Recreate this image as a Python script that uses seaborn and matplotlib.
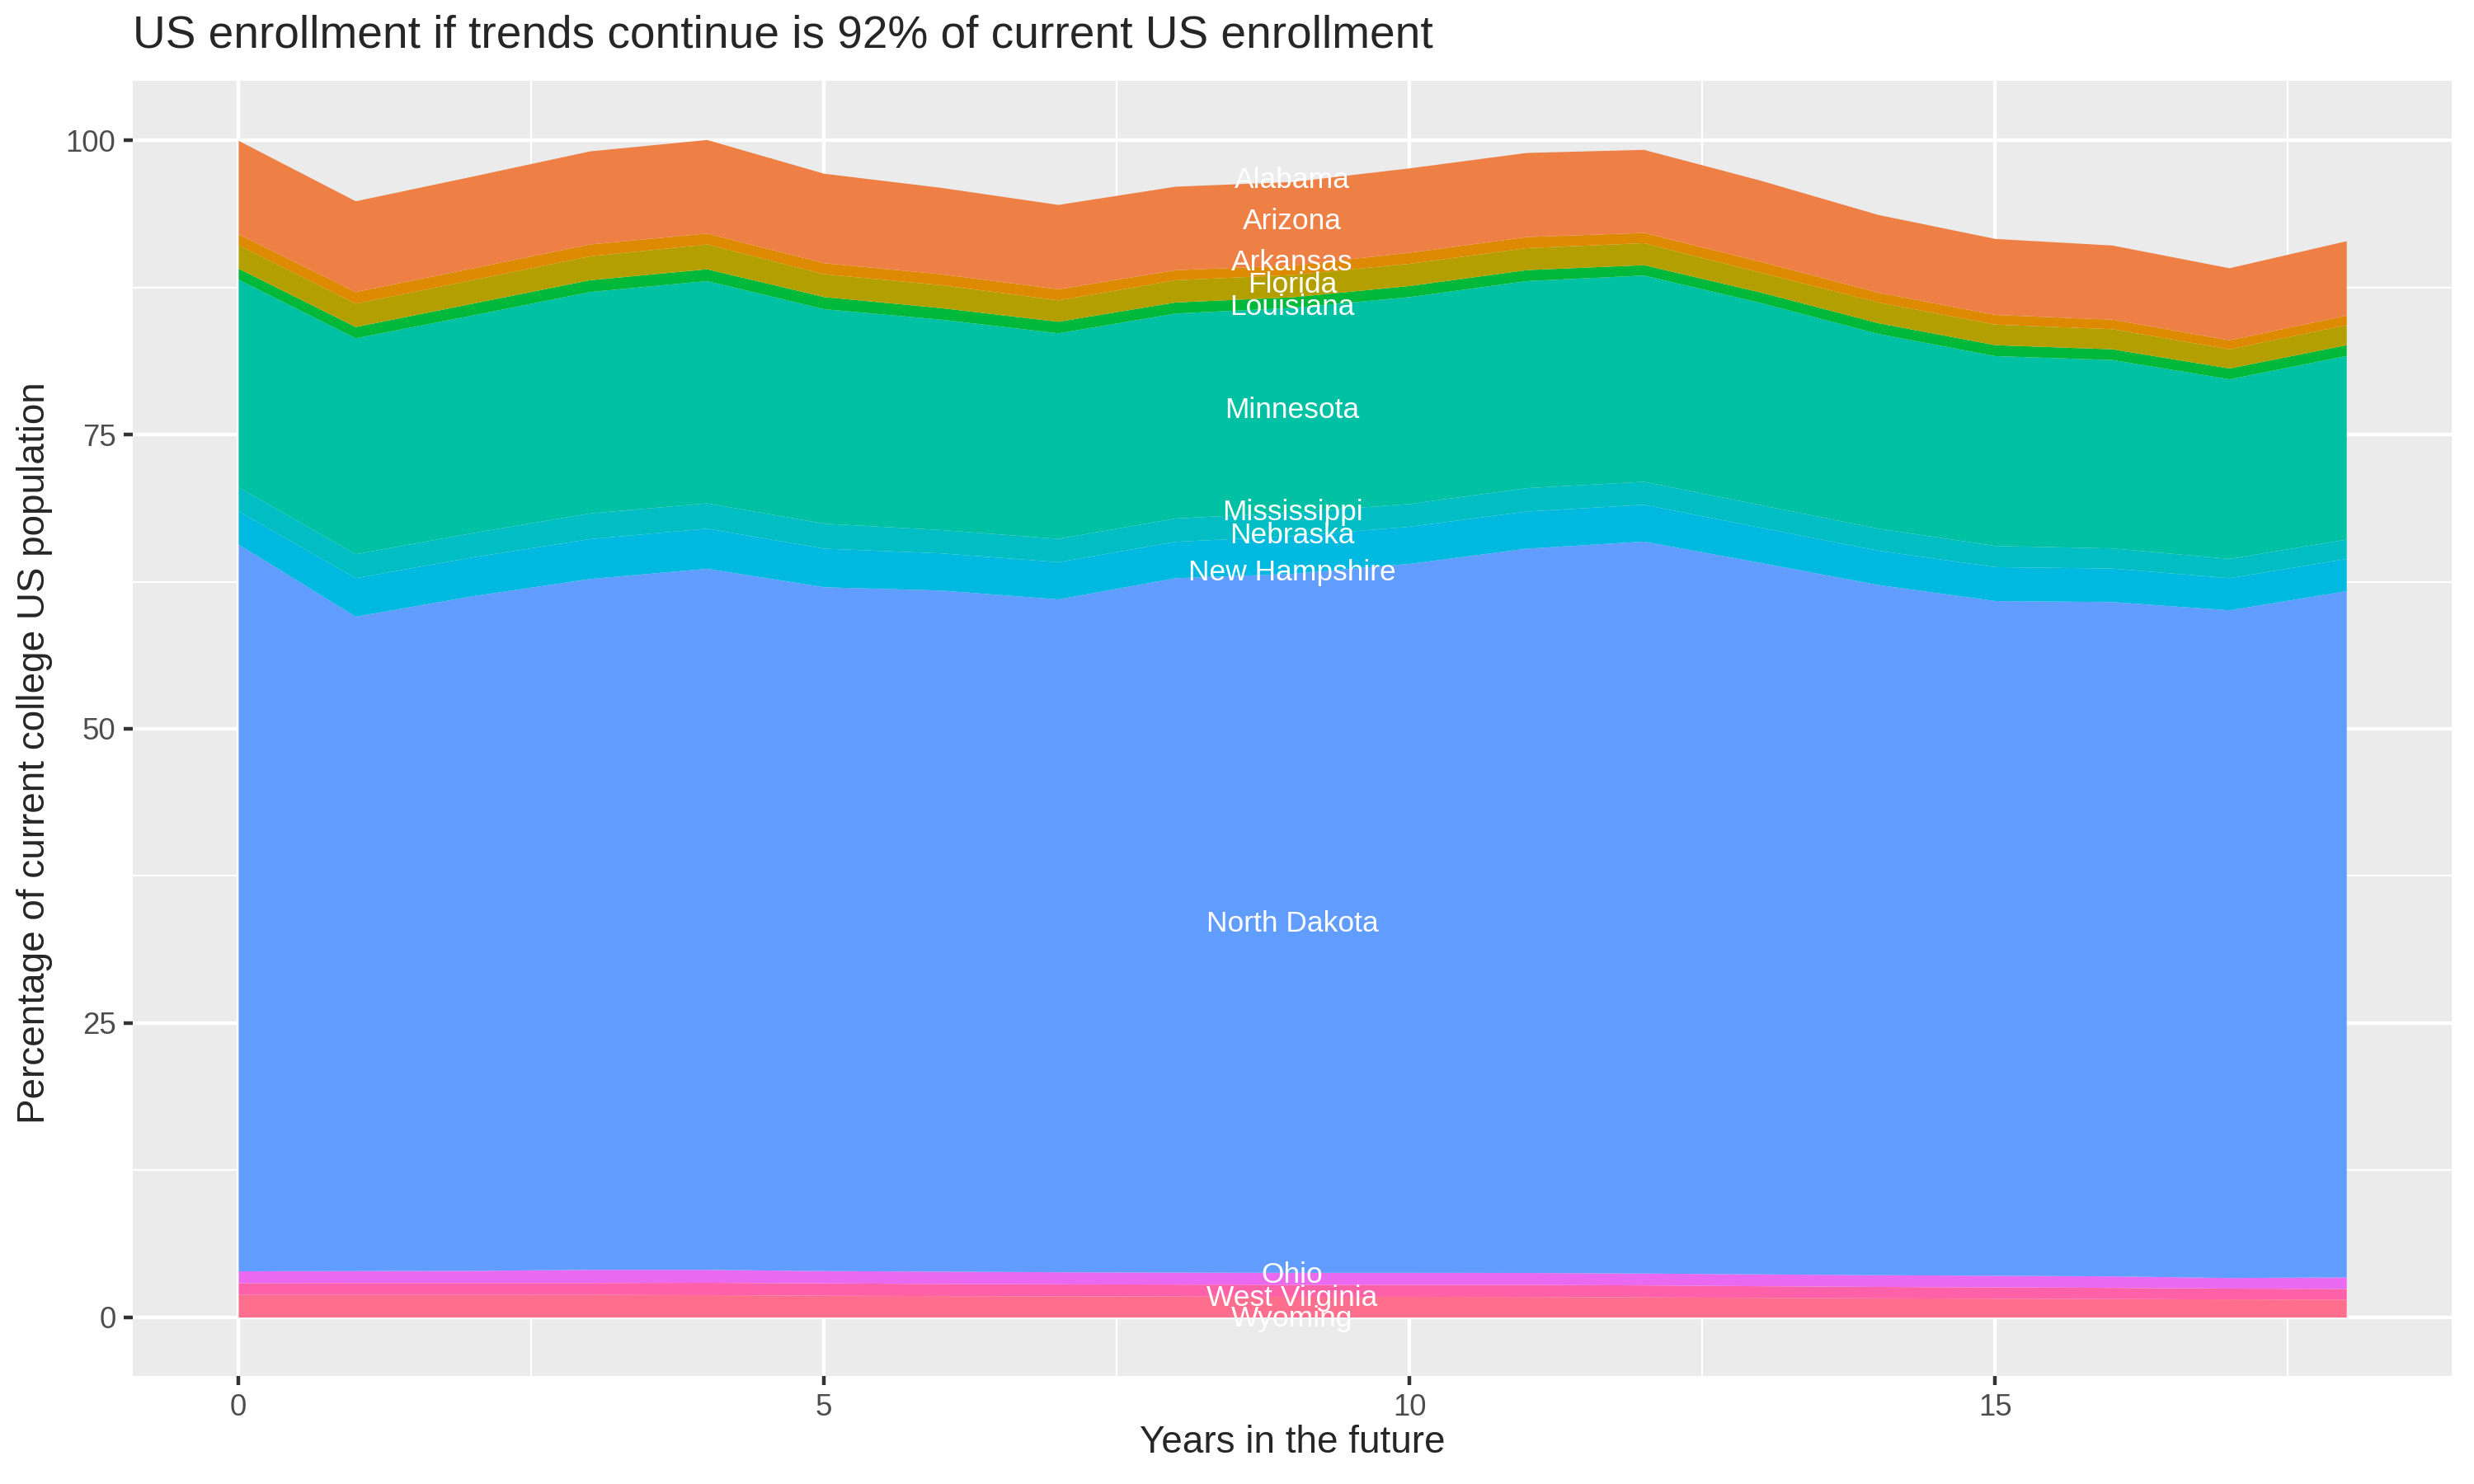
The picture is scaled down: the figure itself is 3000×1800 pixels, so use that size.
import numpy as np
import matplotlib
matplotlib.use("Agg")
import matplotlib.pyplot as plt
import seaborn as sns

# years ahead
years = list(range(19))

# share of current college population, per state
wyoming = [1.92, 1.92, 1.92, 1.92, 1.90, 1.85, 1.82, 1.80, 1.78, 1.76,
           1.76, 1.75, 1.71, 1.67, 1.63, 1.60, 1.57, 1.54, 1.52]
west_virginia = [1.00, 1.01, 1.01, 1.01, 1.05, 1.05, 1.03, 1.02, 1.02, 1.02,
                 1.02, 1.02, 1.02, 0.99, 0.97, 0.96, 0.95, 0.92, 0.91]
ohio = [1.01, 1.02, 1.04, 1.12, 1.10, 1.05, 1.05, 1.03, 1.02, 1.02,
        1.02, 1.02, 1.01, 1.01, 1.00, 0.99, 0.98, 0.90, 0.98]
north_dakota = [61.76, 55.61, 57.33, 58.71, 59.58, 58.11, 57.88, 57.18, 59.01, 59.40,
                60.25, 61.55, 62.20, 60.45, 58.65, 57.34, 57.30, 56.74, 58.32]
nebraska = [2.82, 3.27, 3.30, 3.39, 3.41, 3.28, 3.16, 3.16, 3.09, 3.20,
            3.15, 3.15, 3.13, 2.99, 2.92, 2.88, 2.85, 2.73, 2.74]
mississippi = [2.04, 2.04, 2.06, 2.18, 2.15, 2.12, 1.98, 1.98, 1.98, 2.00,
               1.94, 1.99, 1.95, 1.92, 1.87, 1.80, 1.71, 1.64, 1.64]
minnesota = [17.65, 18.35, 18.50, 18.82, 18.89, 18.23, 17.88, 17.47, 17.42, 17.40,
             17.58, 17.60, 17.53, 17.18, 16.55, 16.13, 16.01, 15.26, 15.61]
louisiana = [0.93, 0.95, 1.00, 1.00, 1.00, 1.03, 0.98, 0.98, 0.94, 0.90,
             0.94, 0.93, 0.88, 0.89, 0.91, 0.93, 0.91, 0.92, 0.91]
florida = [1.99, 1.99, 2.00, 2.03, 2.11, 1.94, 1.95, 1.82, 1.89, 1.90,
           1.89, 1.87, 1.87, 1.68, 1.76, 1.75, 1.71, 1.63, 1.71]
arkansas = [0.93, 0.99, 1.00, 1.01, 0.93, 0.94, 0.93, 0.94, 0.85, 0.80,
            0.94, 0.94, 0.87, 0.93, 0.84, 0.82, 0.81, 0.77, 0.81]
arizona = [7.95, 7.71, 7.80, 7.91, 7.95, 7.60, 7.34, 7.17, 7.10, 7.10,
           7.17, 7.15, 7.06, 6.89, 6.60, 6.46, 6.30, 6.12, 6.32]

# bottom -> top
layers = [wyoming, west_virginia, ohio, north_dakota, nebraska, mississippi,
          minnesota, louisiana, florida, arkansas, arizona]
layer_colors = ["#FF6E8C", "#FF61A8", "#E96AF0", "#619CFF", "#00B9E0", "#00BEC4",
                "#00C1A3", "#00B93A", "#B3A000", "#DE8A00", "#EE8045"]

# state labels as placed on the chart
label_names = ["Alabama", "Arizona", "Arkansas", "Florida", "Louisiana", "Minnesota",
               "Mississippi", "Nebraska", "New Hampshire", "North Dakota", "Ohio",
               "West Virginia", "Wyoming"]
label_y = [96.6, 93.1, 89.6, 87.75, 85.8, 77.1, 68.4, 66.45, 63.3, 33.4, 3.6, 1.6, -0.1]
label_x = 9

sns.set_theme(style="darkgrid", rc={
    "axes.facecolor": "#EBEBEB",
    "grid.color": "white",
    "figure.facecolor": "white",
})
plt.rcParams["font.family"] = ["Liberation Sans", "DejaVu Sans"]

fig = plt.figure(figsize=(10, 6), dpi=300)
ax = fig.add_axes([0.0537, 0.0728, 0.9373, 0.8728])

ax.stackplot(years, *layers, colors=layer_colors, linewidth=0)

for name, y in zip(label_names, label_y):
    ax.text(label_x, y, name, color="white", fontsize=8.5, ha="center", va="center")

ax.set_xlim(-0.9, 18.9)
ax.set_ylim(-5.0, 105.07)
ax.set_xticks([0, 5, 10, 15])
ax.set_yticks([0, 25, 50, 75, 100])
ax.set_xticks([2.5, 7.5, 12.5, 17.5], minor=True)
ax.set_yticks([12.5, 37.5, 62.5, 87.5], minor=True)
ax.grid(which="major", color="white", linewidth=1.07)
ax.grid(which="minor", color="white", linewidth=0.53)
ax.set_axisbelow(True)
for s in ax.spines.values():
    s.set_visible(False)
ax.tick_params(which="major", length=2.75, width=1.07, color="#333333",
               labelsize=8.8, labelcolor="#4D4D4D", pad=2.2, bottom=True, left=True)
ax.tick_params(which="minor", length=0)

fig.text(0.0537, 0.9756, "US enrollment if trends continue is 92% of current US enrollment",
         fontsize=13.2, ha="left", va="center")
fig.text(0.5223, 0.0278, "Years in the future", fontsize=11, ha="center", va="center")
fig.text(0.014, 0.4927, "Percentage of current college US population", fontsize=11,
         rotation=90, ha="center", va="center")

fig.savefig("out.png", dpi=300)
